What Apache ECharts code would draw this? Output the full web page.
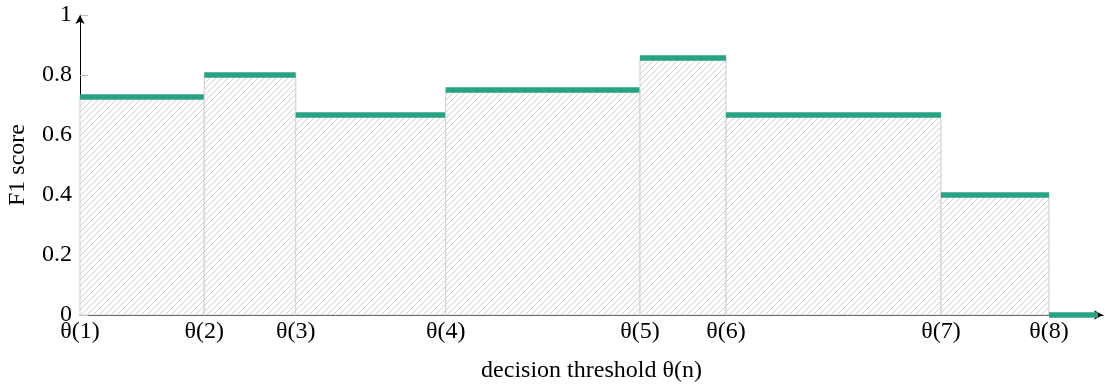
<!DOCTYPE html>
<html>
<head>
<meta charset="utf-8">
<script src="https://cdn.jsdelivr.net/npm/echarts@6/dist/echarts.min.js"></script>
<style>
  html, body { margin: 0; padding: 0; background: #fff; }
  #chart { width: 1105px; height: 387px; }
</style>
</head>
<body>
<div id="chart"></div>
<script>
// Threshold positions (arbitrary units) and labels
const thetaPos = [0, 1.243, 2.157, 3.657, 5.60, 6.46, 8.61, 9.69];
const thetaLabels = ['θ(1)', 'θ(2)', 'θ(3)', 'θ(4)', 'θ(5)', 'θ(6)', 'θ(7)', 'θ(8)'];
// F1 score on each interval [θ(i), θ(i+1)), last interval beyond θ(8)
const f1Values = [0.727, 0.8, 0.667, 0.75, 0.857, 0.667, 0.4, 0];
const xAxisMax = 10.23;
const lastSegmentEnd = 10.18;
const yTicks = [0, 0.2, 0.4, 0.6, 0.8, 1];

const segStarts = thetaPos.slice();
const segEnds = thetaPos.slice(1).concat([lastSegmentEnd]);
const segData = f1Values.map((v, i) => [segStarts[i], segEnds[i], v]);

// hatch pattern
const tile = document.createElement('canvas');
const T = 6;
tile.width = T; tile.height = T;
const ctx = tile.getContext('2d');
ctx.strokeStyle = '#cfcfcf';
ctx.lineWidth = 1;
ctx.beginPath();
ctx.moveTo(0, T); ctx.lineTo(T, 0);
ctx.moveTo(-1, 1); ctx.lineTo(1, -1);
ctx.moveTo(T - 1, T + 1); ctx.lineTo(T + 1, T - 1);
ctx.stroke();

const chart = echarts.init(document.getElementById('chart'), null, { renderer: 'canvas' });
const serif = '"Liberation Serif", "DejaVu Serif", serif';

chart.setOption({
  animation: false,
  backgroundColor: '#fff',
  grid: { left: 80, right: 2, top: 15, bottom: 72, containLabel: false, outerBoundsMode: 'none' },
  xAxis: {
    type: 'value', min: 0, max: xAxisMax,
    name: 'decision threshold θ(n)',
    nameLocation: 'middle', nameGap: 44,
    nameTextStyle: { fontFamily: serif, fontSize: 24, color: '#000' },
    axisLine: { show: true, lineStyle: { color: '#000', width: 1 }, symbol: ['none', 'arrow'], symbolSize: [7, 9] },
    axisTick: { show: false },
    splitLine: { show: false },
    axisLabel: {
      customValues: thetaPos,
      fontFamily: serif, fontSize: 24, color: '#000', margin: 5,
      formatter: function (val) {
        let best = 0;
        for (let i = 0; i < thetaPos.length; i++) {
          if (Math.abs(thetaPos[i] - val) < Math.abs(thetaPos[best] - val)) best = i;
        }
        return thetaLabels[best];
      }
    }
  },
  yAxis: {
    type: 'value', min: 0, max: 1, interval: 0.2,
    name: 'F1 score',
    nameLocation: 'middle', nameGap: 50,
    nameTextStyle: { fontFamily: serif, fontSize: 24, color: '#000' },
    axisLine: { show: true, lineStyle: { color: '#000', width: 1 }, symbol: ['none', 'arrow'], symbolSize: [7, 9] },
    axisTick: { show: true, inside: true, length: 8, lineStyle: { color: '#bbbbbb' } },
    splitLine: { show: false },
    axisLabel: {
      customValues: yTicks,
      fontFamily: serif, fontSize: 24, color: '#000', margin: 8,
      formatter: function (v) { return String(Math.round(v * 10) / 10); }
    }
  },
  series: [{
    type: 'custom',
    clip: false,
    data: segData,
    encode: { x: [0, 1], y: 2 },
    renderItem: function (params, api) {
      const p0 = api.coord([api.value(0), api.value(2)]);
      const p1 = api.coord([api.value(1), 0]);
      const x = p0[0], y = p0[1], w = p1[0] - p0[0], h = p1[1] - p0[1];
      const children = [];
      if (h > 0.5) {
        children.push({ type: 'rect', shape: { x: x, y: y, width: w, height: h }, style: { fill: '#fff' } });
        children.push({ type: 'rect', shape: { x: x, y: y, width: w, height: h },
          style: { fill: { image: tile, repeat: 'repeat' }, stroke: '#d4d4d4', lineWidth: 1.2 } });
      }
      children.push({ type: 'line', shape: { x1: x, y1: y, x2: x + w, y2: y },
        style: { stroke: '#27a383', lineWidth: 5.5 } });
      return { type: 'group', children: children };
    }
  }]
});
</script>
</body>
</html>
